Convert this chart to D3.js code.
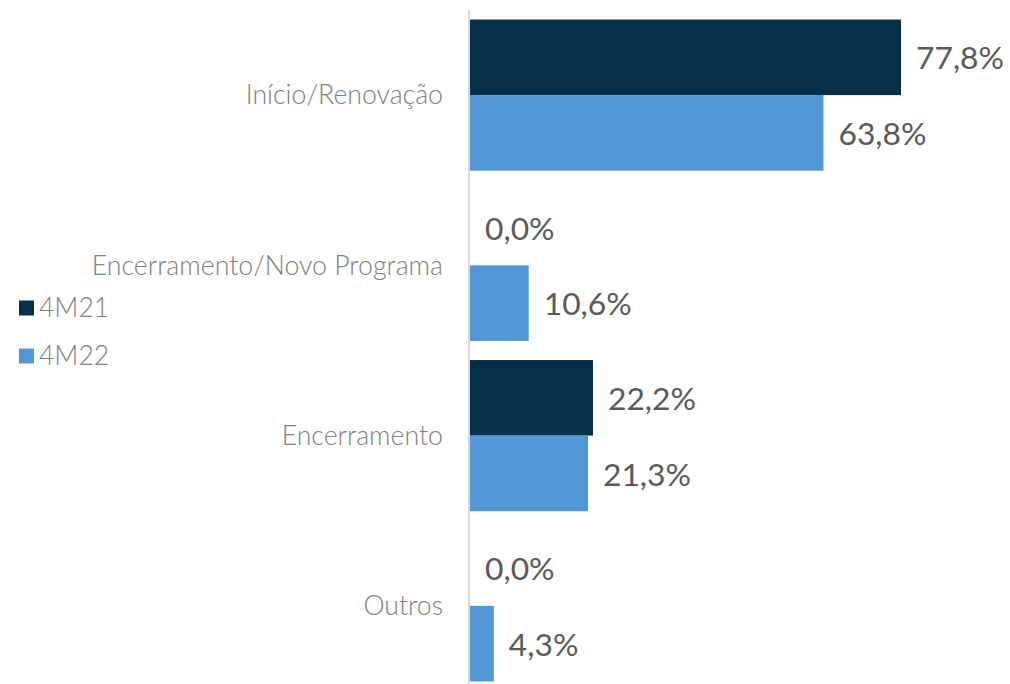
<!DOCTYPE html>
<html>
<head>
<meta charset="utf-8">
<script src="https://cdn.jsdelivr.net/npm/d3@7"></script>
<style>
  html, body { margin: 0; padding: 0; background: #fff; }
  svg { display: block; font-family: Lato, "Open Sans", sans-serif; }
</style>
</head>
<body>
<svg id="chart" width="1010" height="684"></svg>
<script>
const categories = ["Início/Renovação", "Encerramento/Novo Programa", "Encerramento", "Outros"];
const seriesNames = ["4M21", "4M22"];
const values4M21 = [77.8, 0.0, 22.2, 0.0];
const values4M22 = [63.8, 10.6, 21.3, 4.3];
const colors = ["#06304A", "#5097D3"];

const svg = d3.select("#chart");
const x0 = 470;
const x = d3.scaleLinear().domain([0, 77.8]).range([x0, 901]);
const y = d3.scaleBand().domain(categories).range([10, 691]).paddingInner(0.112).paddingOuter(0.056);
const ySub = d3.scaleBand().domain(seriesNames).range([0, y.bandwidth()]);

const series = [values4M21, values4M22];
const fmt = v => v.toFixed(1).replace(".", ",") + "%";

const data = [];
categories.forEach((c, i) => {
  seriesNames.forEach((s, j) => data.push({ c, s, v: series[j][i], j }));
});

svg.selectAll("rect.bar").data(data).join("rect")
  .attr("class", "bar")
  .attr("x", x0)
  .attr("y", d => y(d.c) + ySub(d.s))
  .attr("width", d => x(d.v) - x0)
  .attr("height", ySub.bandwidth())
  .attr("fill", d => colors[d.j]);

svg.selectAll("text.val").data(data).join("text")
  .attr("class", "val")
  .attr("x", d => x(d.v) + 15)
  .attr("y", d => y(d.c) + ySub(d.s) + ySub.bandwidth() / 2 + 1)
  .attr("dy", "0.35em")
  .attr("font-size", 31.8)
  .attr("fill", "#595959")
  .text(d => fmt(d.v));

// vertical axis line
svg.append("line")
  .attr("x1", 469).attr("x2", 469)
  .attr("y1", 10).attr("y2", 684)
  .attr("stroke", "#D9D9D9").attr("stroke-width", 2);

// category labels
svg.selectAll("text.cat").data(categories).join("text")
  .attr("class", "cat")
  .attr("x", 443)
  .attr("y", d => y(d) + y.bandwidth() / 2)
  .attr("dy", "0.35em")
  .attr("text-anchor", "end")
  .attr("font-size", 26.7)
  .attr("font-weight", 300)
  .attr("fill", "#808080")
  .text(d => d);

// legend
const legend = svg.append("g");
seriesNames.forEach((s, j) => {
  const cy = 308 + j * 48;
  legend.append("rect").attr("x", 19).attr("y", cy - 7.5).attr("width", 15).attr("height", 15).attr("fill", colors[j]);
  legend.append("text").attr("x", 39).attr("y", cy).attr("dy", "0.35em")
    .attr("font-size", 26.5).attr("font-weight", 300).attr("fill", "#808080").text(s);
});
</script>
</body>
</html>
